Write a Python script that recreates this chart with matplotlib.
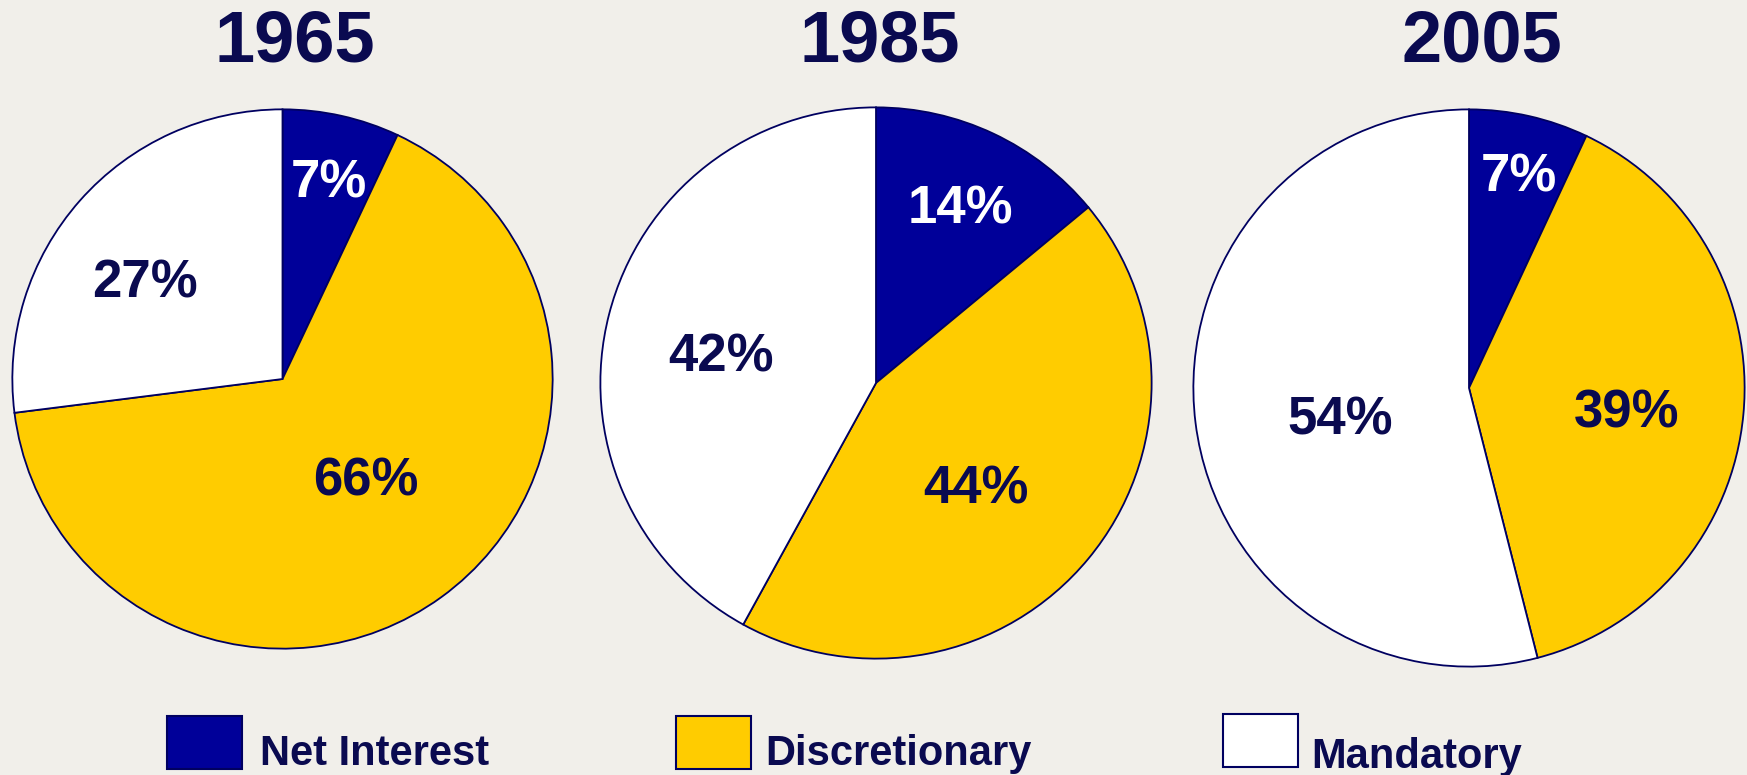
import matplotlib
matplotlib.use("Agg")
import matplotlib.pyplot as plt
from matplotlib.patches import Rectangle

# ---- data ----
years = ["1965", "1985", "2005"]
categories = ["Net Interest", "Discretionary", "Mandatory"]
net_interest = [7, 14, 7]
discretionary = [66, 44, 39]
mandatory = [27, 42, 54]

# ---- style ----
W, H = 1747, 775
DPI = 100
bg = "#F1EFEA"
colors = ["#000099", "#FFCC00", "#FFFFFF"]
edge = "#000060"
txt_dark = "#0A0A50"
label_colors = ["white", txt_dark, txt_dark]
plt.rcParams["font.family"] = ["Liberation Sans", "DejaVu Sans"]

# pie geometry in pixels (center x, center y from top, rx, ry)
pies_geom = [(282.5, 379, 271.5, 271), (876, 383, 277, 277), (1469, 388, 277, 280)]
# label centers in pixels (from top)
label_pos = [
    [(329, 184), (366, 482), (145, 284)],
    [(960, 209), (976, 490), (721, 357)],
    [(1519, 178), (1627, 414), (1340, 420)],
]
title_pos = [(295, 43), (880, 43), (1482, 43)]

fig = plt.figure(figsize=(W / DPI, H / DPI), dpi=DPI, facecolor=bg)

for i, yr in enumerate(years):
    cx, cy, rx, ry = pies_geom[i]
    ax = fig.add_axes([(cx - rx) / W, (H - cy - ry) / H, 2 * rx / W, 2 * ry / H])
    vals = [net_interest[i], discretionary[i], mandatory[i]]
    ax.pie(vals, colors=colors, startangle=90, counterclock=False, radius=1,
           wedgeprops=dict(edgecolor=edge, linewidth=1.3))
    ax.set_aspect("auto")
    ax.set_xlim(-1.005, 1.005)
    ax.set_ylim(-1.005, 1.005)
    ax.axis("off")
    for j, v in enumerate(vals):
        lx, ly = label_pos[i][j]
        fig.text(lx / W, 1 - ly / H, f"{v}%", ha="center", va="center",
                 fontsize=38, fontweight="bold", color=label_colors[j])
    tx, ty = title_pos[i]
    fig.text(tx / W, 1 - ty / H, yr, ha="center", va="center",
             fontsize=52, fontweight="bold", color=txt_dark)

# legend
legend_boxes = [(167, 716, 75, 53), (676, 716, 75, 53), (1223, 714, 75, 53)]
legend_text_x = [260, 765, 1311]
legend_text_y = [754, 754, 757]
for k, cat in enumerate(categories):
    x0, y0, w, h = legend_boxes[k]
    fig.patches.append(Rectangle((x0 / W, 1 - (y0 + h) / H), w / W, h / H,
                                 transform=fig.transFigure, facecolor=colors[k],
                                 edgecolor=edge, linewidth=1.5))
    fig.text(legend_text_x[k] / W, 1 - legend_text_y[k] / H, cat, ha="left",
             va="center", fontsize=30, fontweight="bold", color=txt_dark)

fig.savefig("out.png", dpi=DPI, facecolor=bg)
